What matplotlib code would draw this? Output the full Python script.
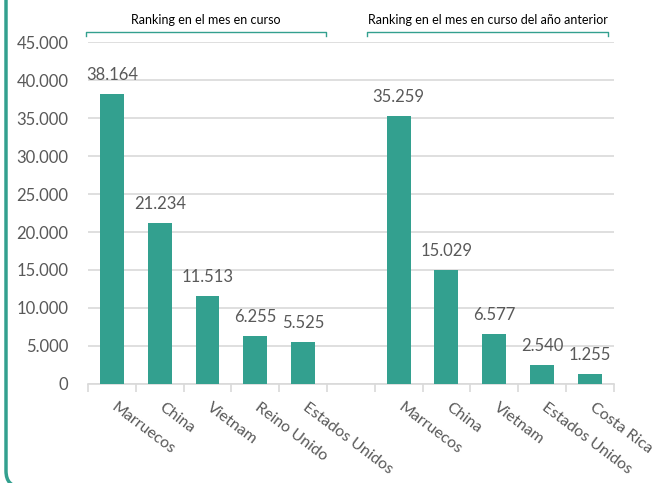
import matplotlib.pyplot as plt
from matplotlib.patches import FancyBboxPatch
from matplotlib.lines import Line2D
from matplotlib.transforms import ScaledTranslation

plt.rcParams['font.family'] = ['Lato', 'DejaVu Sans']

paises = ['Marruecos', 'China', 'Vietnam', 'Reino Unido', 'Estados Unidos',
          '',
          'Marruecos', 'China', 'Vietnam', 'Estados Unidos', 'Costa Rica']
valores = [38164, 21234, 11513, 6255, 5525,
           None,
           35259, 15029, 6577, 2540, 1255]
grupos = ['Ranking en el mes en curso', 'Ranking en el mes en curso del año anterior']

verde = '#33a08f'
gris = '#595959'

fig = plt.figure(figsize=(6.57, 4.83), dpi=100)
ax = fig.add_axes([0.134, 0.205, 0.8, 0.708])

x = [i for i, v in enumerate(valores) if v is not None]
y = [v for v in valores if v is not None]
ax.bar(x, y, width=0.5, color=verde, zorder=3)

for xi, yi in zip(x, y):
    txt = f'{yi:,}'.replace(',', '.')
    ax.annotate(txt, (xi, yi), xytext=(0, 8), textcoords='offset points',
                ha='center', va='bottom', fontsize=12, color=gris)

ax.set_xlim(-0.5, len(valores) - 0.5)
ax.set_ylim(0, 45000)
ax.set_yticks(range(0, 45001, 5000))
ax.set_yticklabels([f'{t:,}'.replace(',', '.') for t in range(0, 45001, 5000)],
                   fontsize=12, color=gris)
ax.yaxis.grid(True, color='#d9d9d9', linewidth=1.2, zorder=0)
ax.tick_params(axis='y', length=0, pad=14)

ax.set_xticks(range(len(valores)))
ax.set_xticklabels(paises, rotation=-37, ha='left', rotation_mode='anchor',
                   fontsize=11.5, color=gris)
ax.tick_params(axis='x', length=0, pad=12)
desplaza = ScaledTranslation(4 / 72, 0, fig.dpi_scale_trans)
for lab in ax.get_xticklabels():
    lab.set_transform(lab.get_transform() + desplaza)
ax.set_xticks([i - 0.5 for i in range(len(valores) + 1)], minor=True)
ax.tick_params(axis='x', which='minor', length=6, color='#d9d9d9', width=1.2)

for s in ['top', 'right', 'left']:
    ax.spines[s].set_visible(False)
ax.spines['bottom'].set_color('#d9d9d9')
ax.spines['bottom'].set_linewidth(1.2)

# corchetes de los grupos
W, H = 657, 483
for (x0, x1), g in zip([(86, 326), (367, 608)], grupos):
    fig.add_artist(Line2D([x0 / W, x0 / W, x1 / W, x1 / W],
                          [1 - 36 / H, 1 - 32 / H, 1 - 32 / H, 1 - 36 / H],
                          color=verde, linewidth=1))
    fig.text((x0 + x1) / 2 / W, 1 - 20 / H, g, ha='center', va='center',
             fontsize=9, color='black')

# marco verde
marco = FancyBboxPatch((0.06, -0.04), 8, 8,
                       boxstyle='round,pad=0,rounding_size=0.16',
                       transform=fig.dpi_scale_trans, fill=False,
                       edgecolor=verde, linewidth=2.5)
fig.add_artist(marco)

fig.savefig('out.png', dpi=100)
